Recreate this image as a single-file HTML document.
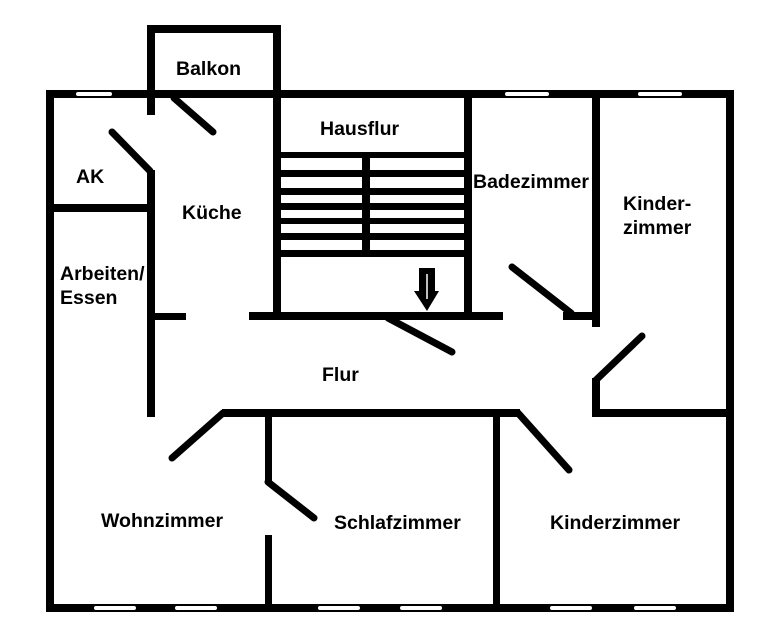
<!DOCTYPE html>
<html><head><meta charset="utf-8"><style>
html,body{margin:0;padding:0;background:#fff;}
svg{display:block}
text{font-family:"Liberation Sans",Arial,sans-serif;font-weight:bold;font-size:19.5px;fill:#000}
</style></head><body>
<svg width="766" height="634" viewBox="0 0 766 634" xmlns="http://www.w3.org/2000/svg">
<g fill="#000">
<rect x="46" y="90" width="687" height="8"/>
<rect x="46" y="90" width="8" height="522"/>
<rect x="726" y="90" width="8" height="522"/>
<rect x="46" y="604" width="688" height="8"/>
<rect x="147" y="25" width="8" height="90"/>
<rect x="147" y="25" width="134" height="8"/>
<rect x="273" y="25" width="8" height="290"/>
<rect x="46" y="204" width="108" height="8"/>
<rect x="147" y="170" width="8" height="247"/>
<rect x="147" y="313" width="39" height="7"/>
<rect x="464" y="94" width="8" height="222"/>
<rect x="249" y="312" width="254" height="8"/>
<rect x="280" y="152" width="184" height="6"/>
<rect x="280" y="170" width="184" height="7"/>
<rect x="280" y="188" width="184" height="7"/>
<rect x="280" y="203" width="184" height="7"/>
<rect x="280" y="218" width="184" height="6"/>
<rect x="280" y="233" width="184" height="7"/>
<rect x="280" y="250" width="184" height="7"/>
<rect x="362" y="152" width="8" height="100"/>
<rect x="592" y="94" width="8" height="233"/>
<rect x="563" y="312" width="37" height="8"/>
<rect x="592" y="378" width="8" height="38"/>
<rect x="592" y="409" width="142" height="8"/>
<rect x="222" y="409" width="298" height="8"/>
<rect x="265" y="412" width="7" height="71"/>
<rect x="265" y="535" width="7" height="75"/>
<rect x="493" y="412" width="7" height="196"/>
</g>
<g stroke="#000" stroke-width="7" stroke-linecap="round">
<line x1="174" y1="98" x2="213" y2="132"/>
<line x1="112" y1="132" x2="150" y2="171"/>
<line x1="388" y1="318" x2="452" y2="352"/>
<line x1="512" y1="267" x2="571" y2="313"/>
<line x1="642" y1="336" x2="596" y2="380"/>
<line x1="223" y1="413" x2="172" y2="458"/>
<line x1="268" y1="482" x2="314" y2="518"/>
<line x1="518" y1="413" x2="569" y2="470"/>
</g>
<path d="M419 268 H435 V291 H439 L427 311 L414 291 H419 Z" fill="#000"/>
<line x1="427" y1="274" x2="427" y2="299" stroke="#fff" stroke-width="1.5"/>
<g fill="#fff">
<rect x="76" y="92" width="36" height="4" rx="2"/>
<rect x="505" y="92" width="44" height="4" rx="2"/>
<rect x="638" y="92" width="44" height="4" rx="2"/>
<rect x="94" y="606" width="42" height="4" rx="2"/>
<rect x="175" y="606" width="42" height="4" rx="2"/>
<rect x="318" y="606" width="42" height="4" rx="2"/>
<rect x="400" y="606" width="42" height="4" rx="2"/>
<rect x="550" y="606" width="42" height="4" rx="2"/>
<rect x="634" y="606" width="42" height="4" rx="2"/>
</g>
<text x="176" y="75">Balkon</text>
<text x="320" y="135">Hausflur</text>
<text x="76" y="183">AK</text>
<text x="182" y="219">Küche</text>
<text x="473" y="188">Badezimmer</text>
<text x="623" y="210">Kinder-</text>
<text x="623" y="234">zimmer</text>
<text x="60" y="280">Arbeiten/</text>
<text x="60" y="304">Essen</text>
<text x="322" y="381">Flur</text>
<text x="101" y="527">Wohnzimmer</text>
<text x="334" y="529">Schlafzimmer</text>
<text x="550" y="529">Kinderzimmer</text>
</svg>
</body></html>
